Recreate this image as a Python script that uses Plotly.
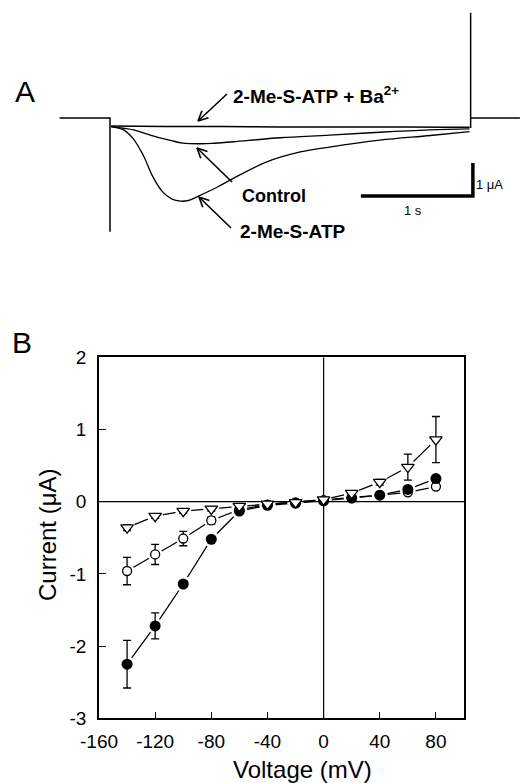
import math
import plotly.graph_objects as go

W, H = 520, 783

# ---------------- Panel A data (time in s, current in uA) ----------------
hold_t = [-0.45, 0.0, 0.0, 0.0, None, 3.22, 3.22, 3.22, 3.66]
hold_i = [0.0, 0.0, -3.45, -0.26, None, -0.30, 3.19, 0.0, 0.0]

ba_t = [0.01, 0.5, 1.0, 1.5, 2.0, 2.5, 3.0, 3.21]
ba_i = [-0.24, -0.26, -0.26, -0.27, -0.27, -0.27, -0.28, -0.28]

ctrl_t = [0.01, 0.12, 0.21, 0.36, 0.42, 0.54, 0.65, 0.80, 0.91, 1.10, 1.52, 1.96, 2.41, 2.86, 3.21]
ctrl_i = [-0.26, -0.31, -0.36, -0.52, -0.58, -0.68, -0.76, -0.78, -0.77, -0.72, -0.60, -0.52, -0.43, -0.36, -0.33]

atp_t = [0.01, 0.12, 0.21, 0.30, 0.38, 0.47, 0.55, 0.63, 0.70, 0.80, 0.96, 1.10, 1.40, 1.70, 1.96, 2.41, 2.86, 3.21]
atp_i = [-0.26, -0.36, -0.64, -1.15, -1.76, -2.24, -2.45, -2.52, -2.50, -2.35, -2.09, -1.83, -1.33, -1.03, -0.88, -0.67, -0.53, -0.41]

scale_t = [2.24, 3.24, 3.24]
scale_i = [-2.36, -2.36, -1.36]

# ---------------- Panel B data ----------------
voltage = [-140, -120, -100, -80, -60, -40, -20, 0, 20, 40, 60, 80]
atp_cur = [-2.25, -1.72, -1.14, -0.52, -0.13, -0.05, -0.02, 0.01, 0.05, 0.09, 0.17, 0.32]
atp_err = [0.33, 0.18, 0.04, 0.03, 0.02, 0.01, 0.01, 0.01, 0.01, 0.02, 0.03, 0.04]
ctrl_cur = [-0.96, -0.73, -0.51, -0.26, -0.11, -0.04, -0.01, 0.02, 0.05, 0.09, 0.13, 0.21]
ctrl_err = [0.19, 0.14, 0.10, 0.05, 0.03, 0.02, 0.01, 0.01, 0.01, 0.02, 0.02, 0.03]
ba_cur = [-0.36, -0.20, -0.13, -0.10, -0.06, -0.03, -0.01, 0.03, 0.12, 0.27, 0.48, 0.86]
ba_err = [0.04, 0.03, 0.03, 0.03, 0.02, 0.01, 0.01, 0.01, 0.02, 0.04, 0.18, 0.32]

x_ticks = [-160, -120, -80, -40, 0, 40, 80]
x_ticktext = ["-160", "-120", "-80", "-40", "0", "40", "80"]
y_ticks = [-3, -2, -1, 0, 1, 2]
y_ticktext = ["-3", "-2", "-1", "0", "1", "2"]
x_range = [-160, 100]
y_range = [-3, 2]

FONT = "Liberation Sans, Arial, Helvetica, sans-serif"


def px(x):
    return x / W


def py(y):
    return 1 - y / H


fig = go.Figure()

# Panel A traces
la = dict(xaxis="x2", yaxis="y2", mode="lines", hoverinfo="skip", showlegend=False)
fig.add_trace(go.Scatter(x=hold_t, y=hold_i, line=dict(color="black", width=1.5), **la))
fig.add_trace(go.Scatter(x=ba_t, y=ba_i, line=dict(color="black", width=1.5, shape="spline"), **la))
fig.add_trace(go.Scatter(x=ctrl_t, y=ctrl_i, line=dict(color="black", width=1.4, shape="spline"), **la))
fig.add_trace(go.Scatter(x=atp_t, y=atp_i, line=dict(color="black", width=1.3, shape="spline"), **la))
fig.add_trace(go.Scatter(x=scale_t, y=scale_i, line=dict(color="black", width=3.5), **la))

# Panel B: connecting lines
for cur in (ba_cur, ctrl_cur, atp_cur):
    fig.add_trace(go.Scatter(x=voltage, y=cur, mode="lines", showlegend=False, hoverinfo="skip",
                             line=dict(color="black", width=1.3)))
# halos to break lines around symbols
for cur, s in ((ba_cur, 16), (ctrl_cur, 15), (atp_cur, 16)):
    fig.add_trace(go.Scatter(x=voltage, y=cur, mode="markers", showlegend=False, hoverinfo="skip",
                             marker=dict(color="white", size=s, line=dict(width=0))))
# reference lines at zero
fig.add_trace(go.Scatter(x=x_range, y=[0, 0], mode="lines", showlegend=False, hoverinfo="skip",
                         line=dict(color="black", width=1.2)))
fig.add_trace(go.Scatter(x=[0, 0], y=y_range, mode="lines", showlegend=False, hoverinfo="skip",
                         line=dict(color="black", width=1.2)))

eb = lambda e: dict(type="data", array=e, visible=True, color="black", thickness=1.3, width=4)
fig.add_trace(go.Scatter(x=voltage, y=ctrl_cur, mode="markers", showlegend=False, error_y=eb(ctrl_err),
                         marker=dict(symbol="circle", size=9, color="white", line=dict(color="black", width=1.3))))
fig.add_trace(go.Scatter(x=voltage, y=atp_cur, mode="markers", showlegend=False, error_y=eb(atp_err),
                         marker=dict(symbol="circle", size=11, color="black", line=dict(color="black", width=0))))
fig.add_trace(go.Scatter(x=voltage, y=ba_cur, mode="markers", showlegend=False, error_y=eb(ba_err),
                         marker=dict(symbol="triangle-down", size=11, color="white", line=dict(color="black", width=1.3))))

fig.update_layout(
    width=W, height=H, autosize=False, margin=dict(l=0, r=0, t=0, b=0, pad=0, autoexpand=False),
    paper_bgcolor="white", plot_bgcolor="white",
    font=dict(family=FONT, color="black"),
    xaxis=dict(domain=[px(99), px(464)], range=x_range, tickvals=x_ticks, ticktext=x_ticktext,
               ticks="inside", ticklen=7, automargin=False,
               tickwidth=1.2, tickcolor="black", showline=True, linecolor="black", linewidth=1.5, mirror=True,
               showgrid=False, zeroline=False, tickfont=dict(size=19), ticklabelstandoff=5),
    yaxis=dict(domain=[py(718.3), py(357.3)], range=y_range, tickvals=y_ticks, ticktext=y_ticktext,
               ticks="inside", ticklen=7, automargin=False,
               tickwidth=1.2, tickcolor="black", showline=True, linecolor="black", linewidth=1.5, mirror=True,
               showgrid=False, zeroline=False, tickfont=dict(size=19), ticklabelstandoff=7),
    xaxis2=dict(domain=[0, 1], range=[-110 / 112, 410 / 112], visible=False, anchor="y2", automargin=False),
    yaxis2=dict(domain=[py(260), 1], range=[(118 - 260) / 33, 118 / 33], visible=False, anchor="x2",
                automargin=False),
)

ann = []


def text(x, y, s, size, bold=False, xanchor="center", angle=0):
    ann.append(dict(x=px(x), y=py(y), xref="paper", yref="paper", text=f"<b>{s}</b>" if bold else s,
                    showarrow=False, xanchor=xanchor, yanchor="middle", textangle=angle,
                    font=dict(size=size, family=FONT, color="black")))


text(25, 92, "A", 30)
text(22, 342, "B", 30)
text(231, 95, "2-Me-S-ATP + Ba<sup>2+</sup>", 19, bold=True, xanchor="left")
text(240, 196, "Control", 18, bold=True, xanchor="left")
text(238, 231, "2-Me-S-ATP", 19, bold=True, xanchor="left")
text(474, 184, "1 μA", 13, xanchor="left")
text(413, 210, "1 s", 13)
text(47, 535, "Current (μA)", 24, angle=-90)
text(302, 769, "Voltage (mV)", 24)
fig.update_layout(annotations=ann)

# arrows (open V heads) as shapes
shapes = []
arrows = [((227, 94), (198, 121)), ((232, 182), (197, 148)), ((231, 228), (199, 197))]
for (tx, ty), (hx, hy) in arrows:
    shapes.append(dict(type="line", xref="paper", yref="paper", x0=px(tx), y0=py(ty), x1=px(hx), y1=py(hy),
                       line=dict(color="black", width=1.6)))
    ang = math.atan2(ty - hy, tx - hx)
    for d in (0.45, -0.45):
        ex = hx + 11 * math.cos(ang + d)
        ey = hy + 11 * math.sin(ang + d)
        shapes.append(dict(type="line", xref="paper", yref="paper", x0=px(hx), y0=py(hy), x1=px(ex), y1=py(ey),
                           line=dict(color="black", width=1.6)))
fig.update_layout(shapes=shapes)

fig.write_html("out.html")
